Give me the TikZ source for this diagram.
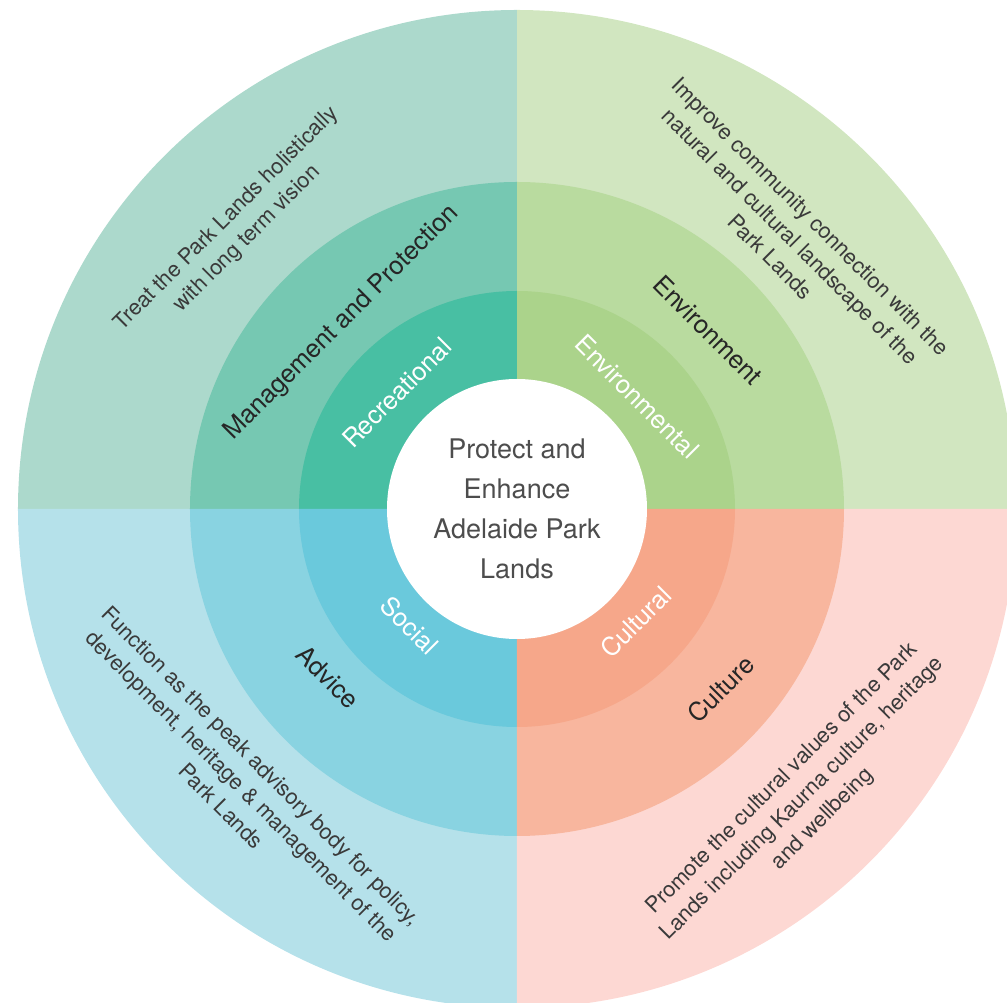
\documentclass[tikz,border=0pt]{standalone}
\usepackage{fontspec}
\setmainfont{TeX Gyre Heros}
\definecolor{tlO}{HTML}{ACD9CC}
\definecolor{tlM}{HTML}{76C8B2}
\definecolor{tlI}{HTML}{48BFA3}
\definecolor{trO}{HTML}{D1E6C0}
\definecolor{trM}{HTML}{B9DB9F}
\definecolor{trI}{HTML}{ABD38B}
\definecolor{blO}{HTML}{B5E1EA}
\definecolor{blM}{HTML}{89D3E1}
\definecolor{blI}{HTML}{6AC9DC}
\definecolor{brO}{HTML}{FDD8D3}
\definecolor{brM}{HTML}{F8B69E}
\definecolor{brI}{HTML}{F6A78A}
\definecolor{txtdark}{HTML}{3A3A3A}
\definecolor{txtmid}{HTML}{262626}
\definecolor{txtcen}{HTML}{4D4D4D}
\newcommand\qsec[3]{\fill[#2] (0,0) -- (#1:#3) arc[start angle=#1,end angle=#1+90,radius=#3] -- cycle;}
\tikzset{
  outertxt/.style={font=\fontsize{21.8}{28.5}\selectfont, text=txtdark, align=center, inner sep=0pt},
  midtxt/.style={font=\fontsize{25.5}{30}\selectfont, text=txtmid, inner sep=0pt},
  innertxt/.style={font=\fontsize{25.5}{30}\selectfont, text=white, inner sep=0pt},
  centertxt/.style={circle, fill=white, minimum size=260pt, inner sep=0pt, align=center,
    font=\fontsize{27}{40}\selectfont, text=txtcen}
}
\begin{document}
\begin{tikzpicture}[x=1pt,y=1pt]
\useasboundingbox (-517,-494) rectangle (490,509);
\clip (-517,-494) rectangle (490,509);
% outer ring
\qsec{0}{trO}{499}
\qsec{90}{tlO}{499}
\qsec{180}{blO}{499}
\qsec{270}{brO}{499}
% middle ring
\qsec{0}{trM}{327}
\qsec{90}{tlM}{327}
\qsec{180}{blM}{327}
\qsec{270}{brM}{327}
% inner ring
\qsec{0}{trI}{218}
\qsec{90}{tlI}{218}
\qsec{180}{blI}{218}
\qsec{270}{brI}{218}
% centre
\node[centertxt] (centre) at (0,0) {Protect and\\Enhance\\Adelaide Park\\Lands};
% inner labels
\node[innertxt, rotate=45] (recreational) at (-120,116) {Recreational};
\node[innertxt, rotate=-45] (environmental) at (120,112) {Environmental};
\node[innertxt, rotate=-45] (social) at (-107,-116) {Social};
\node[innertxt, rotate=45] (cultural) at (119,-113) {Cultural};
% middle labels
\node[midtxt, rotate=45] (management) at (-175,186) {Management and Protection};
\node[midtxt, rotate=-45] (environment) at (191,179) {Environment};
\node[midtxt, rotate=-45] (advice) at (-189,-168) {Advice};
\node[midtxt, rotate=45] (culture) at (204,-180) {Culture};
% outer texts
\node[outertxt, rotate=45] (treat) at (-280,280) {Treat the Park Lands holistically\\with long term vision};
\node[outertxt, rotate=-45] (improve) at (273.5,272.5) {Improve community connection with the\\natural and cultural landscape of the\\Park Lands};
\node[outertxt, rotate=-45] (function) at (-275.5,-277) {Function as the peak advisory body for policy,\\development, heritage \& management of the\\Park Lands};
\node[outertxt, rotate=45] (promote) at (285.5,-290) {Promote the cultural values of the Park\\Lands including Kaurna culture, heritage\\and wellbeing};
\end{tikzpicture}
\end{document}
